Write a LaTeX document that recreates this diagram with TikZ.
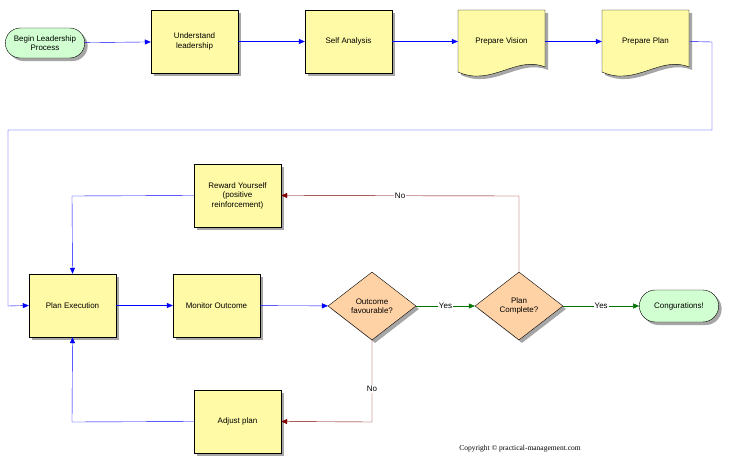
\documentclass[tikz,border=0pt]{standalone}
\usepackage{fontspec}
\setmainfont{Liberation Sans}
\newfontfamily\serifcr{Liberation Serif}
\usetikzlibrary{shapes.geometric,shadows,arrows.meta}
\begin{document}
\begin{tikzpicture}[x=1pt,y=-1pt,font=\fontsize{8}{9.5}\selectfont,
  sh/.style={drop shadow={shadow xshift=3pt,shadow yshift=-3pt,fill=black!35,opacity=1}},
  proc/.style={draw,fill=yellow!35,minimum width=87pt,minimum height=63pt,align=center,sh},
  term/.style={draw,rounded rectangle,fill=green!18,minimum width=86pt,minimum height=30pt,align=center,sh},
  dec/.style={draw,diamond,aspect=1.3,fill=orange!35,inner sep=1pt,minimum width=88pt,minimum height=68pt,align=center,sh},
  bl/.style={draw=blue,-{Triangle[length=6pt,width=5pt]}},
  gr/.style={draw=green!45!black,-{Triangle[length=6pt,width=5pt]}},
  rd/.style={draw=red!50!black,-{Triangle[length=6pt,width=5pt]}},
  lab/.style={fill=white,inner sep=1pt}]
\useasboundingbox (0,0) rectangle (731,471);
\usetikzlibrary{shapes.misc}
\node[term] (b) at (45,43) {Begin Leadership\\Process};
\node[proc] (u) at (194.5,41.5) {Understand\\leadership};
\node[proc] (s) at (348.5,41.5) {Self Analysis};
\foreach \n/\x/\t in {v/501.5/Prepare Vision,p/645.5/Prepare Plan}{
  \fill[black!35] (\x-43.5+3,13) -- (\x+43.5+3,13) -- (\x+43.5+3,70) .. controls (\x+15+3,58) and (\x-10+3,90) .. (\x-43.5+3,75) -- cycle;
  \filldraw[fill=yellow!35] (\x-43.5,10) -- (\x+43.5,10) -- (\x+43.5,67) .. controls (\x+15,55) and (\x-10,87) .. (\x-43.5,72) -- cycle;
  \node[minimum width=87pt,minimum height=63pt] (\n) at (\x,41.5) {\t};
}
\node[proc] (r) at (237.5,195.5) {Reward Yourself\\(positive\\reinforcement)};
\node[proc] (e) at (72.5,305.5) {Plan Execution};
\node[proc] (m) at (216.5,305.5) {Monitor Outcome};
\node[dec] (o) at (372,306) {Outcome\\favourable?};
\node[dec] (c) at (519,306) {Plan\\Complete?};
\node[term,minimum height=32pt] (g) at (679,306) {Congurations!};
\node[proc] (a) at (237.5,421.5) {Adjust plan};
\draw[bl] (b) -- (u);
\draw[bl] (u) -- (s);
\draw[bl] (s) -- (v);
\draw[bl] (v) -- (p);
\draw[bl] (p.east) -- (712,42) -- (712,130) -- (8,130) -- (8,306) -- (e.west);
\draw[bl] (e) -- (m);
\draw[bl] (m) -- (o);
\draw[gr] (o) -- node[lab]{Yes} (c);
\draw[gr] (c) -- node[lab]{Yes} (g);
\draw[rd] (c.north) -- (519,196) -- node[lab]{No} (r.east);
\draw[rd] (o.south) -- (372,422) node[lab,pos=0.6]{No} -- (a.east);
\draw[bl] (r.west) -- (72,196) -- (e.north);
\draw[bl] (a.west) -- (72,422) -- (e.south);
\node[font=\serifcr\fontsize{7.5}{9}\selectfont] (cr) at (520,449) {Copyright \textcopyright{} practical-management.com};
\end{tikzpicture}
\end{document}
